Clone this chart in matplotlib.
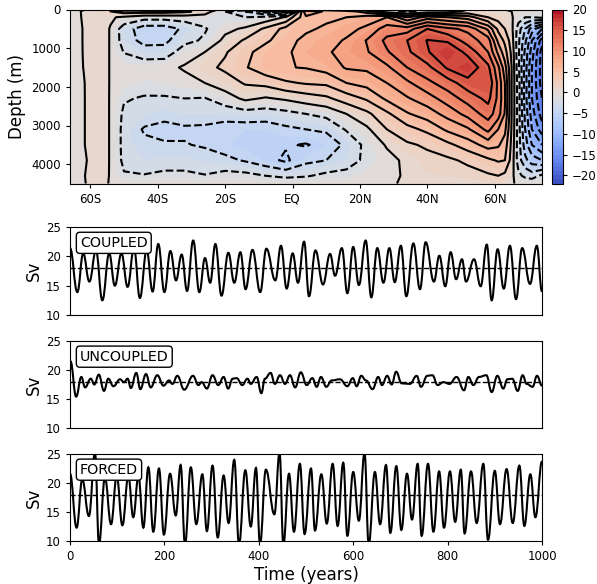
import numpy as np
import matplotlib
matplotlib.use('Agg')
import matplotlib.pyplot as plt
from matplotlib.path import Path
from matplotlib.patches import PathPatch

# streamfunction section, one list per latitude, values read at these depths
depths = [0, 50, 200, 500, 800, 1100, 1500, 1900, 2300, 2700, 3100, 3500, 3900, 4300, 4500]
lats = [-66, -62, -58, -54, -50, -44, -38, -32, -26, -20, -14, -8, -2, 4, 10,
        16, 22, 28, 34, 40, 46, 52, 58, 61, 63, 65, 67, 69, 71, 74]

psi_m66 = [-.2, -.4, -.5, -.6, -.6, -.7, -.7, -.7, -.7, -.7, -.7, -.7, -.7, -.6, -.4]
psi_m62 = [-.05, .1, .1, .05, .05, .05, .02, -.1, -.1, -.1, -.1, -.1, -.3, -.1, -.1]
psi_m58 = [.3, 1, 1, 1, 1, 1, 1, 1, .9, .9, .9, .9, .9, .8, .5]
psi_m54 = [.3, 2, .2, -.1, -.1, -.1, -.1, -.1, -.1, -.1, -.1, -.1, -.1, -.1, -.1]
psi_m50 = [.5, 3, -.3, -3.1, -3, -2.1, -.6, -.8, -1.8, -2.4, -2.6, -2.6, -2.5, -1.8, -.4]
psi_m44 = [.5, 3, -1.2, -5, -4.6, -3.2, -.7, -1.1, -2.2, -3, -4.2, -3.6, -3, -1.9, -.4]
psi_m38 = [.4, 3, -1.2, -5, -4.5, -3.2, -.5, -1, -2.2, -3.4, -4.6, -3.8, -2.8, -1.6, -.4]
psi_m32 = [.3, 2.5, -1, -3.6, -2.6, -.9, .2, -.6, -2, -3, -4.3, -3.9, -2.8, -1.6, -.4]
psi_m26 = [.2, 1, -.9, -2.2, -1.7, 0, 1.4, 0, -2.1, -3, -4.4, -4.2, -3.2, -1.9, -.4]
psi_m20 = [-.1, -2, -1.5, -.5, .5, 1.8, 2.4, 1, -.9, -3.2, -4.8, -4.9, -3.5, -1.3, -.4]
psi_m14 = [-.2, -4, -2, .3, 2.3, 3.4, 3.8, 2.2, .4, -2.8, -5, -5.5, -4.2, -1.4, -.4]
psi_m08 = [-.5, -7, -1.5, 2.4, 3.6, 5, 5.4, 2.6, -.2, -3, -5, -5.6, -5.2, -2, -.5]
psi_m02 = [-1, -10, .2, 4.7, 5.2, 5.6, 5.9, 3.7, .3, -2.6, -4.4, -5.8, -6.4, -2.5, -.5]
psi_p04 = [2, 8, 5.5, 5.6, 6.6, 7, 6.1, 4.2, 1, -2, -4, -6.2, -4.5, -2.2, -.5]
psi_p10 = [3, 5.5, 5.5, 6.4, 7.3, 7.7, 6.8, 4.4, 1.6, -1.4, -3.7, -5.1, -4, -1.5, -.3]
psi_p16 = [1.5, 5, 6, 7.4, 8.2, 8.8, 8.2, 6, 3, 0, -1.8, -3.6, -3, -1.3, -.3]
psi_p22 = [.2, 3, 7, 8.4, 10.1, 9.8, 8.4, 6.7, 4.3, 1.5, -.4, -1.4, -1.5, -.7, -.2]
psi_p28 = [-1, -1.5, 8, 11, 12.5, 11.8, 9.6, 8, 6.4, 3.6, 2, .2, -.6, -.4, -.1]
psi_p34 = [-1.5, -2.5, 4, 11, 14, 13.6, 12, 9.6, 7.8, 5.8, 3.3, 1.7, .4, .2, .1]
psi_p40 = [-1, -1.5, 7, 14, 16.1, 15.8, 13.4, 11.5, 9.1, 7, 4.5, 2.3, 1.4, .9, .5]
psi_p46 = [-.5, -1, 6, 12.5, 15.7, 17.8, 16.3, 13, 11, 8.7, 6.4, 3.5, 1.6, 1, .5]
psi_p52 = [0, .5, 5, 11.5, 13, 15.4, 17.6, 15.2, 12.8, 10.7, 7.7, 5, 2.4, 1.2, .5]
psi_p58 = [0, .6, 2, 7.6, 11, 12, 14.5, 15.7, 14.6, 12.9, 10.6, 6.8, 3.6, 1.7, .8]
psi_p61 = [0, .2, 1.2, 3.5, 5.5, 7.5, 10.5, 11.5, 11.5, 11, 8, 6.3, 4.2, 2, .9]
psi_p63 = [0, .1, .6, 2, 3.5, 4.8, 6.8, 8, 8.2, 7.8, 6.5, 5, 4, 1.5, .6]
psi_p65 = [0, 0, .2, .5, 1, 1.5, 2, 2, 2, 2, 1.8, 1.5, 1.2, .6, .2]
psi_p67 = [0, -.4, -1, -3, -3.5, -3.5, -3.5, -3, -3, -3, -3, -3, -3, -1.5, -.3]
psi_p69 = [0, -.6, -2, -6, -7.5, -8.5, -9, -9, -9, -8.5, -8, -7, -5.5, -2.5, -.5]
psi_p71 = [0, -.6, -2, -9, -12, -13, -14, -14, -14, -13, -12, -10, -7, -3, -.5]
psi_p74 = [0, -.4, -1.5, -12, -17, -19, -19, -19, -18, -17, -15, -12, -8, -1.5, -.3]

psi_columns = [psi_m66, psi_m62, psi_m58, psi_m54, psi_m50, psi_m44, psi_m38, psi_m32, psi_m26, psi_m20,
               psi_m14, psi_m08, psi_m02, psi_p04, psi_p10, psi_p16, psi_p22, psi_p28, psi_p34, psi_p40,
               psi_p46, psi_p52, psi_p58, psi_p61, psi_p63, psi_p65, psi_p67, psi_p69, psi_p71, psi_p74]

lat_ticks = [-60, -40, -20, 0, 20, 40, 60]
lat_labels = ['60S', '40S', '20S', 'EQ', '20N', '40N', '60N']

# time series: peaks and troughs
coupled_t = [0, 15.5, 28, 41, 55, 68.5, 83, 95, 109, 122, 135.6, 148, 162.5, 175, 187, 200, 212.7, 224.6, 236.6,
             248, 261, 274, 286, 297, 308, 321, 335.5, 348, 361, 372, 386.6, 403, 416, 435, 447, 459, 471.8, 483,
             496, 506.4, 520, 536, 551, 561.5, 576, 587.6, 600, 612, 626.4, 638.4, 651, 664, 676.6, 688, 701, 712.6,
             727.4, 741.5, 753.5, 771, 782.5, 795, 806.5, 818, 830.5, 839, 856, 870, 883, 893.4, 906, 919, 932, 945,
             958, 974.6, 989, 1000]
coupled_v = [21.4, 13.9, 20.5, 15.7, 21, 12.5, 20.5, 15, 20.5, 14.8, 21.4, 12.9, 21, 14, 22.1, 13.9, 20.9, 15.9, 20.3,
             14.1, 22.7, 13.9, 19.7, 15.5, 22.1, 13.3, 20.6, 15.5, 20.7, 14.4, 21.1, 13.9, 21.3, 15.9, 21.8, 14.5, 20.5, 15.5,
             22.5, 13.2, 21, 15.2, 20.4, 16.7, 21.4, 13.7, 21.6, 15.1, 22.7, 13, 21.4, 15.5, 21.4, 15.6, 21.8, 13.2,
             22.2, 14.4, 22.4, 15.7, 20.1, 14.9, 20.7, 16.1, 19.5, 15.7, 19.5, 14.9, 22, 12.5, 21.2, 14.5, 21.8, 12.7,
             21.4, 15.3, 21.8, 14]

uncoupled_t = [0, 1, 13, 24, 32, 44, 51.5, 61, 72, 81, 92, 106, 114.4, 122, 129, 140.5, 149, 161, 171, 185, 198, 210,
               217, 227.4, 242, 260.6, 272, 279, 290, 302, 314, 325.5, 335, 344.6, 353, 365, 376, 383, 395.5, 405.4,
               413, 425, 434, 445, 455.5, 466, 477, 489, 501.4, 513.4, 522.6, 531.8, 543, 554.4, 572, 587.6, 599,
               607.4, 617, 627, 641, 653, 661, 672, 681.5, 691, 702.7, 720, 734.5, 743.6, 757, 767.7, 779, 791, 804,
               819, 834.7, 844, 854.5, 866.5, 882, 893.4, 905.4, 918, 926.6, 937, 948.5, 959, 967.5, 980, 989.4, 1000]
uncoupled_v = [20, 21.5, 15.4, 18.8, 17, 18.5, 17.5, 19.2, 16.4, 18.5, 17.2, 18.4, 17.9, 18.5, 16.9, 19.5, 16.7, 19.3, 17, 19.1, 17.3, 18.2,
               17.6, 19, 16.6, 19, 17.4, 17.9, 16.8, 19.1, 17.4, 18.8, 16.8, 18.5, 18.6, 17.4, 18.5, 17.6, 18.8, 16,
               18.5, 19.5, 17.6, 19.1, 17.6, 19.1, 17, 19.6, 17.4, 18.6, 17.1, 18.8, 17.1, 18.2, 18.4, 17.2, 18.6,
               17.2, 19, 18.2, 16.7, 18.8, 17.4, 19, 17.5, 19.7, 17.7, 17.6, 19, 17.1, 19, 19.1, 17.4, 17.9, 17.6,
               18.8, 16.5, 18.8, 17.4, 18.8, 19.1, 16.2, 19, 16.8, 18.4, 18.5, 16.4, 19.1, 17.6, 17.1, 19, 17.3]

forced_t = [0, 14, 26, 40, 53, 61.4, 74, 87, 99, 111, 123.6, 134, 145, 155.4, 166, 176.5, 188.5, 199, 212, 224, 234.4,
            243.6, 256, 267.6, 280.4, 290, 302, 313, 325.5, 336, 348, 358, 371.5, 383, 394, 402.5, 415, 433, 444, 452,
            464, 474.5, 487, 497, 510.6, 519, 532.5, 544, 556.5, 567, 579, 587.6, 600, 612, 624, 632.8, 646, 657,
            669.5, 678.7, 691.4, 702, 714, 724.6, 736.6, 745, 758.5, 770, 782, 792.4, 805, 816, 828, 836, 849.6,
            861.6, 875.7, 885.6, 900, 911, 925, 938, 952, 962.6, 975.3, 986, 1000]
forced_v = [21.6, 12.3, 20.6, 14.3, 25.2, 9.5, 20.9, 12.9, 21.2, 12.7, 21.2, 14.1, 21.2, 12.3, 22.7, 11.6, 22.5, 11.1, 21.6, 14.4, 23.1,
            9.4, 22.7, 12.9, 21.5, 11.7, 23, 10.6, 21.3, 13.1, 24, 9.4, 22.2, 12.5, 22.6, 9.4, 22.3, 14.6, 25.2, 9.4,
            21.6, 11.6, 23.3, 11.2, 22.5, 11.8, 21.5, 13, 23.3, 12.6, 23.5, 10.9, 21.9, 13.5, 25.2, 9.4, 21.9, 12.9,
            23.1, 11.4, 22.9, 11.9, 21.6, 13.7, 23.3, 10.9, 23.3, 11.6, 22, 12.3, 22, 13.3, 22.3, 11.3, 22,
            13.1, 23.3, 10.2, 22.1, 12.9, 22.4, 13.1, 23, 12.6, 21.5, 14.1, 23.7]

mean_sv = 18
panel_names = ['COUPLED', 'UNCOUPLED', 'FORCED']
sv_ticks = [10, 15, 20, 25]


def px_axes(fig, left, top, right, bottom):
    w, h = fig.get_size_inches() * fig.dpi
    return fig.add_axes([left / w, 1 - bottom / h, (right - left) / w, (bottom - top) / h])


def smooth_line(ax, t, v):
    # turning points joined with flat tangents, the curve stays on the read values
    verts = [(t[0], v[0])]
    codes = [Path.MOVETO]
    for i in range(1, len(t)):
        dt = t[i] - t[i - 1]
        verts += [(t[i - 1] + 0.42 * dt, v[i - 1]), (t[i] - 0.42 * dt, v[i]), (t[i], v[i])]
        codes += [Path.CURVE4, Path.CURVE4, Path.CURVE4]
    ax.add_patch(PathPatch(Path(verts, codes), fill=False, ec='k', lw=1.5, zorder=3))


fig = plt.figure(figsize=(5.97, 5.84), dpi=100)

# section plot
ax = px_axes(fig, 70, 9.5, 542, 183.5)
psi = np.column_stack(psi_columns)
cf = ax.contourf(lats, depths, psi, levels=np.arange(-22, 21, 1), cmap='coolwarm')
# pale seams between the colour bands
ax.contour(lats, depths, psi, levels=np.arange(-22, 21, 2), colors='white', linewidths=0.3, alpha=0.35)
ax.contour(lats, depths, psi, levels=np.arange(-22, 21, 2), colors='k', linewidths=1.5)
ax.set_xlim(-66, 74)
ax.set_ylim(4500, 0)
ax.set_xticks(lat_ticks)
ax.set_xticklabels(lat_labels)
ax.set_yticks([0, 1000, 2000, 3000, 4000])
ax.tick_params(labelsize=8.5, length=3, width=0.8)
ax.set_ylabel('Depth (m)', fontsize=12, labelpad=4)

cax = px_axes(fig, 552, 9.5, 563, 183.5)
cb = fig.colorbar(cf, cax=cax)
cb.set_ticks(np.arange(-20, 21, 5))
cb.ax.tick_params(labelsize=8.5, length=3, width=0.8)
cb.outline.set_linewidth(0.8)

# time series panels
series = [(coupled_t, coupled_v), (uncoupled_t, uncoupled_v), (forced_t, forced_v)]
boxes = [(227, 315), (341, 428), (454, 541)]
for name, (t, v), (top, bottom) in zip(panel_names, series, boxes):
    a = px_axes(fig, 70, top, 542, bottom)
    smooth_line(a, t, v)
    a.axhline(mean_sv, color='k', lw=1, ls='--', zorder=4)
    a.set_xlim(0, 1000)
    a.set_ylim(10, 25)
    a.set_yticks(sv_ticks)
    a.set_ylabel('Sv', fontsize=12, labelpad=2)
    a.tick_params(labelsize=8.5, length=3, width=0.8)
    a.text(0.021, 0.82, name, transform=a.transAxes, fontsize=10.3, va='center', ha='left', zorder=6,
           bbox=dict(boxstyle='round,pad=0.25', fc='white', ec='k', lw=1))
    if name != 'FORCED':
        a.set_xticks([])
    else:
        a.set_xticks([0, 200, 400, 600, 800, 1000])
        a.set_xlabel('Time (years)', fontsize=12, labelpad=2)

fig.savefig('out.png', dpi=100)
